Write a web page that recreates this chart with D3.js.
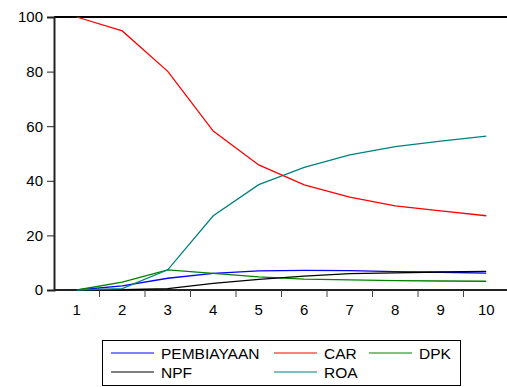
<!DOCTYPE html>
<html lang="en">
<head>
    <meta charset="UTF-8">
    <title>Impulse response chart</title>
    <script src="https://d3js.org/d3.v7.min.js"></script>
    <style>
        body { margin: 0; background: #fff; }
        text { font-family: "Liberation Sans", Arial, sans-serif; fill: #000; }
    </style>
</head>
<body>

<div id="chart"></div>

<script>
    // periods on the x axis
    var periods = [1, 2, 3, 4, 5, 6, 7, 8, 9, 10];

    // series values
    var pembiayaan = [0, 1.5, 4.3, 6.1, 7.0, 7.2, 7.1, 6.7, 6.5, 6.2];
    var car = [100, 94.9, 80.1, 58.2, 45.8, 38.5, 34.0, 30.8, 29.0, 27.2];
    var dpk = [0, 2.9, 7.4, 6.1, 4.8, 4.0, 3.7, 3.4, 3.3, 3.2];
    var npf = [0, 0.1, 0.5, 2.4, 3.9, 5.1, 6.0, 6.3, 6.6, 6.8];
    var roa = [0, 0.5, 7.4, 27.2, 38.6, 44.9, 49.5, 52.5, 54.5, 56.4];

    var yTicks = [0, 20, 40, 60, 80, 100];

    var series = [
        { name: "PEMBIAYAAN", values: pembiayaan, color: "#0000ff" },
        { name: "CAR", values: car, color: "#ff0000" },
        { name: "DPK", values: dpk, color: "#008000" },
        { name: "NPF", values: npf, color: "#000000" },
        { name: "ROA", values: roa, color: "#008080" }
    ];

    var width = 507, height = 387;
    // note: "top" is reserved on window, so use a margin object
    var plot = { left: 54, top: 17, bottom: 290, right: 509 };

    var svg = d3.select("#chart")
        .append("svg")
        .attr("width", width)
        .attr("height", height);

    var x = d3.scaleBand().domain(periods).range([plot.left, plot.right]).padding(0);
    var y = d3.scaleLinear().domain([0, 100]).range([plot.bottom, plot.top]);

    // top frame line
    svg.append("line")
        .attr("x1", plot.left).attr("x2", width)
        .attr("y1", plot.top).attr("y2", plot.top)
        .attr("stroke", "#000").attr("stroke-width", 2);

    // y axis
    var yAxis = svg.append("g")
        .attr("transform", "translate(" + plot.left + ",0)")
        .call(d3.axisLeft(y).tickValues(yTicks).tickSize(7).tickPadding(4));
    yAxis.select(".domain").attr("stroke", "#222").attr("stroke-width", 2);
    yAxis.selectAll(".tick line").attr("stroke", "#222").attr("stroke-width", 1);
    yAxis.selectAll("text").style("font-size", "15px").attr("fill", "#000");

    // x axis: ticks at band boundaries, labels at band centres
    var xAxis = svg.append("g")
        .attr("transform", "translate(0," + plot.bottom + ")")
        .call(d3.axisBottom(x).tickSize(0).tickPadding(14));
    xAxis.select(".domain").remove();
    xAxis.selectAll("text").style("font-size", "15px").attr("fill", "#000");

    svg.append("line")
        .attr("x1", plot.left).attr("x2", width)
        .attr("y1", plot.bottom).attr("y2", plot.bottom)
        .attr("stroke", "#222").attr("stroke-width", 2);

    svg.selectAll(".xtick")
        .data(periods.slice(1))
        .enter().append("line")
        .attr("class", "xtick")
        .attr("x1", function (d) { return x(d); })
        .attr("x2", function (d) { return x(d); })
        .attr("y1", plot.bottom)
        .attr("y2", plot.bottom + 7)
        .attr("stroke", "#444");

    // lines
    var line = d3.line()
        .x(function (d, i) { return x(periods[i]) + x.bandwidth() / 2; })
        .y(function (d) { return y(d); });

    svg.selectAll(".series")
        .data(series)
        .enter().append("path")
        .attr("class", "series")
        .attr("fill", "none")
        .attr("stroke", function (d) { return d.color; })
        .attr("stroke-width", 1.3)
        .attr("d", function (d) { return line(d.values); });

    // legend
    var legend = svg.append("g");
    legend.append("rect")
        .attr("x", 102.5).attr("y", 340.5)
        .attr("width", 358).attr("height", 45)
        .attr("fill", "#fff").attr("stroke", "#000");

    var cols = [111, 274, 369];
    var rows = [353, 372];
    var slots = [[0, 0], [1, 0], [2, 0], [0, 1], [1, 1]];

    series.forEach(function (s, i) {
        var cx = cols[slots[i][0]], cy = rows[slots[i][1]];
        legend.append("line")
            .attr("x1", cx).attr("x2", cx + 43)
            .attr("y1", cy).attr("y2", cy)
            .attr("stroke", s.color).attr("stroke-width", 1);
        legend.append("text")
            .attr("x", cx + 50).attr("y", cy)
            .attr("dy", "0.36em")
            .style("font-size", "15.5px")
            .text(s.name);
    });
</script>

</body>
</html>
